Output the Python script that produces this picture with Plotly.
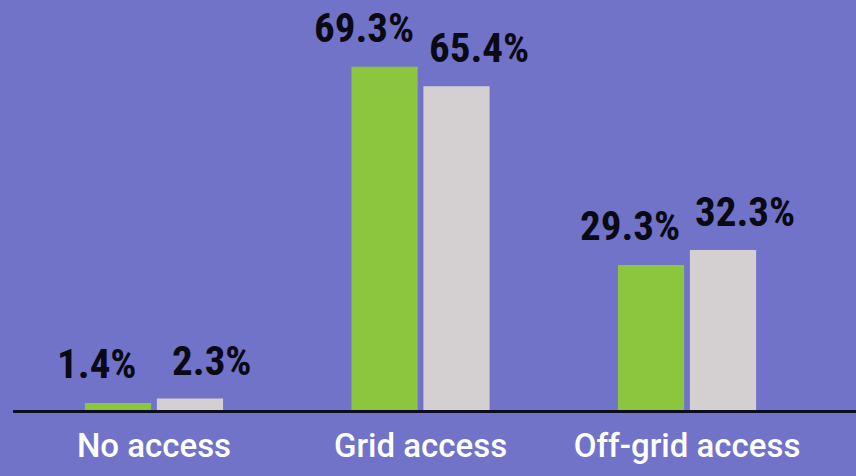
import plotly.graph_objects as go

categories = ["No access", "Grid access", "Off-grid access"]
series_a = [1.4, 69.3, 29.3]
series_b = [2.3, 65.4, 32.3]
labels_a = ["1.4%", "69.3%", "29.3%"]
labels_b = ["2.3%", "65.4%", "32.3%"]

BG = "#7173c9"
GREEN = "#8cc63f"
GRAY = "#d4d0d1"
LABEL_FONT = "Liberation Sans Narrow, Roboto Condensed, Roboto"
TICK_FONT = "Roboto"

fig = go.Figure()
fig.add_trace(go.Bar(x=categories, y=series_a, marker=dict(color=GREEN, line=dict(width=0)),
                     hoverinfo="skip"))
fig.add_trace(go.Bar(x=categories, y=series_b, marker=dict(color=GRAY, line=dict(width=0)),
                     hoverinfo="skip"))

# value labels, placed above each bar, nudged outward as in the reference
for cat, va, la, vb, lb in zip(categories, series_a, labels_a, series_b, labels_b):
    fig.add_annotation(x=cat, y=va, text=la, showarrow=False, xanchor="center",
                       yanchor="bottom", xshift=-57, yshift=13,
                       font=dict(family=LABEL_FONT, size=41, color="#0a0a14", weight="bold"))
    fig.add_annotation(x=cat, y=vb, text=lb, showarrow=False, xanchor="center",
                       yanchor="bottom", xshift=58, yshift=12,
                       font=dict(family=LABEL_FONT, size=41, color="#0a0a14", weight="bold"))

fig.update_layout(
    width=856, height=476,
    paper_bgcolor=BG, plot_bgcolor=BG,
    margin=dict(l=13, r=0, t=0, b=66),
    barmode="group", bargap=0.46, bargroupgap=0.08,
    showlegend=False,
    xaxis=dict(
        range=[-0.529, 2.634], showgrid=False, zeroline=False,
        showline=True, linecolor="#0c0c22", linewidth=3,
        ticks="", ticklabelstandoff=4,
        tickfont=dict(family=TICK_FONT, size=33, color="white", weight=500),
        fixedrange=True,
    ),
    yaxis=dict(range=[0, 82.8], visible=False, fixedrange=True),
)

fig.write_html(
    "out.html",
    config={"displayModeBar": False},
    post_script="document.body.style.margin='0';document.body.style.background='%s';" % BG,
)
